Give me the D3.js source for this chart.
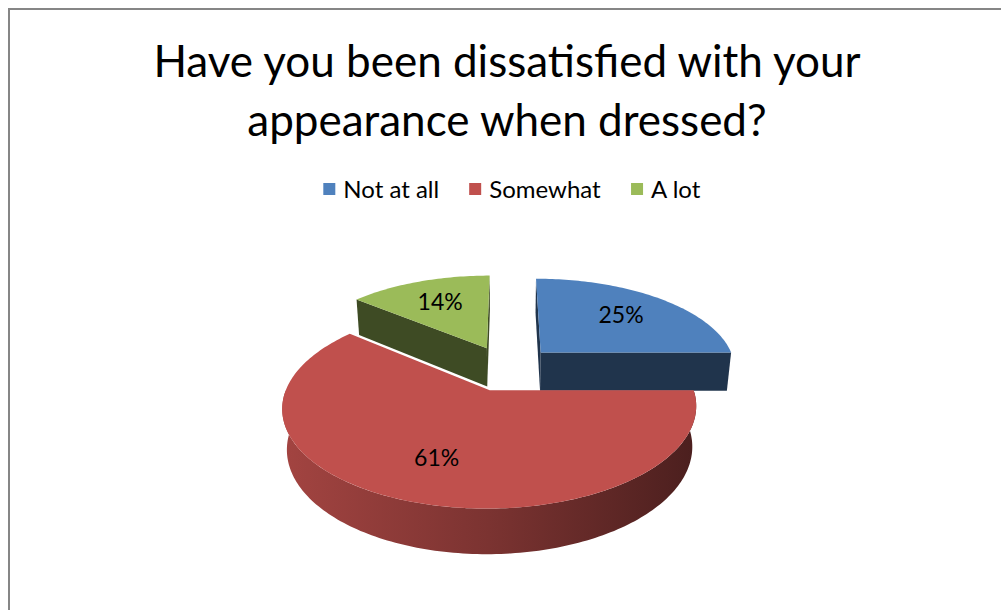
<!DOCTYPE html>
<html>
<head>
<meta charset="utf-8">
<script src="https://cdn.jsdelivr.net/npm/d3@7"></script>
<style>
  html, body { margin: 0; padding: 0; background: #ffffff; }
  svg { display: block; }
</style>
</head>
<body>
<svg id="chart" width="1001" height="610"></svg>
<script>
// Survey answers
const titleLines = ["Have you been dissatisfied with your", "appearance when dressed?"];
const categories = ["Not at all", "Somewhat", "A lot"];
const values = [25, 61, 14];
const valueLabels = ["25%", "61%", "14%"];
const colors = ["#4f81bd", "#c0504d", "#9bbb59"];

const W = 1001, H = 610;
const svg = d3.select("#chart");
const defs = svg.append("defs");
const FONT = "Lato, 'Open Sans', sans-serif";

// chart frame
svg.append("rect")
  .attr("x", 9).attr("y", 9).attr("width", W).attr("height", H)
  .attr("fill", "#ffffff").attr("stroke", "#868686").attr("stroke-width", 2);

// title
svg.append("g").selectAll("text").data(titleLines).join("text")
  .attr("x", 507).attr("y", (d, i) => 77 + i * 59)
  .attr("text-anchor", "middle")
  .attr("font-family", FONT).attr("font-size", 44)
  .attr("fill", "#000").text(d => d);

// legend
const legend = svg.append("g").attr("font-family", FONT).attr("font-size", 24);
const legendItems = legend.selectAll("g").data(categories).join("g");
legendItems.append("rect").attr("width", 12).attr("height", 12).attr("y", -15)
  .attr("fill", (d, i) => colors[i]);
legendItems.append("text").attr("x", 20).attr("y", 0).text(d => d);
let lx = 0;
legendItems.each(function() {
  d3.select(this).attr("transform", `translate(${lx},0)`);
  lx += this.getBBox().width + 30;
});
const legendW = lx - 30;
legend.attr("transform", `translate(${512 - legendW / 2},198)`);

// 3D pie projection (unit radius in world space)
const cx = 507, cy = 368;          // screen position of pie axis
const S = 196;                      // pixels per unit radius
const tilt = Math.asin(92 / 199);   // elevation of the view
const camDist = Math.cos(tilt) / 0.165;
const depth = 0.23;                 // slab thickness
const explode = 0.25;               // radial offset of each slice
const ct = Math.cos(tilt), st = Math.sin(tilt);

function project(X, Y, Z) {
  const w = Z * ct - Y * st;
  const v = Y * ct + Z * st;
  const f = 1 / (1 + w / camDist);
  return [cx + S * X * f, cy - S * v * f];
}
const camera = [0, camDist * st, -camDist * ct];

const pie = d3.pie().sort(null).value(d => d).startAngle(0).endAngle(2 * Math.PI);
const arcs = pie(values).map((a, i) => {
  const mid = (a.startAngle + a.endAngle) / 2;
  return { ...a, i, mid, ox: explode * Math.sin(mid), oz: explode * Math.cos(mid) };
});

const line = d3.line();
function arcPts(a, t0, t1, Y) {
  const n = Math.max(2, Math.ceil((t1 - t0) / 0.02));
  return d3.range(n + 1).map(k => {
    const t = t0 + (t1 - t0) * k / n;
    return project(a.ox + Math.sin(t), Y, a.oz + Math.cos(t));
  });
}
function faceVisible(n, P) {
  return n[0] * (camera[0] - P[0]) + n[1] * (camera[1] - P[1]) + n[2] * (camera[2] - P[2]) > 0;
}

const pieG = svg.append("g");
// back slices first
const order = arcs.slice().sort((a, b) => b.oz - a.oz);

order.forEach(a => {
  const g = pieG.append("g");
  const base = d3.rgb(colors[a.i]);
  const shade = k => d3.rgb(base.r * k, base.g * k, base.b * k).formatHex();

  // outer rim, only the part facing the viewer
  const t0 = Math.max(a.startAngle, Math.PI / 2), t1 = Math.min(a.endAngle, 3 * Math.PI / 2);
  if (t1 > t0) {
    const top = arcPts(a, t0, t1, 0);
    const bot = arcPts(a, t0, t1, -depth).reverse();
    const xs = top.map(p => p[0]);
    const gid = "rim" + a.i;
    const gr = defs.append("linearGradient").attr("id", gid)
      .attr("gradientUnits", "userSpaceOnUse")
      .attr("x1", d3.min(xs)).attr("x2", d3.max(xs)).attr("y1", 0).attr("y2", 0);
    gr.append("stop").attr("offset", 0).attr("stop-color", shade(0.85));
    gr.append("stop").attr("offset", 0.5).attr("stop-color", shade(0.64));
    gr.append("stop").attr("offset", 1).attr("stop-color", shade(0.39));
    g.append("path").attr("d", line(top.concat(bot)) + "Z").attr("fill", `url(#${gid})`);
  }

  // radial cut faces
  const cuts = [
    { t: a.startAngle, n: [-Math.cos(a.startAngle), 0, Math.sin(a.startAngle)] },
    { t: a.endAngle, n: [Math.cos(a.endAngle), 0, -Math.sin(a.endAngle)] }
  ];
  cuts.forEach(c => {
    const ex = a.ox + Math.sin(c.t), ez = a.oz + Math.cos(c.t);
    const P = [(a.ox + ex) / 2, -depth / 2, (a.oz + ez) / 2];
    if (!faceVisible(c.n, P)) return;
    const pts = [project(a.ox, 0, a.oz), project(ex, 0, ez), project(ex, -depth, ez), project(a.ox, -depth, a.oz)];
    g.append("path").attr("d", line(pts) + "Z").attr("fill", shade(0.4));
  });

  // top face
  const topPts = [project(a.ox, 0, a.oz)].concat(arcPts(a, a.startAngle, a.endAngle, 0));
  g.append("path").attr("d", line(topPts) + "Z").attr("fill", colors[a.i]);
});

// value labels on the top faces
const labelR = 0.66;
svg.append("g").selectAll("text").data(arcs).join("text")
  .attr("transform", a => {
    const p = project(a.ox + labelR * Math.sin(a.mid), 0, a.oz + labelR * Math.cos(a.mid));
    return `translate(${p[0]},${p[1]})`;
  })
  .attr("text-anchor", "middle").attr("dy", "0.35em")
  .attr("font-family", FONT).attr("font-size", 23).attr("fill", "#000")
  .text(a => valueLabels[a.i]);
</script>
</body>
</html>
